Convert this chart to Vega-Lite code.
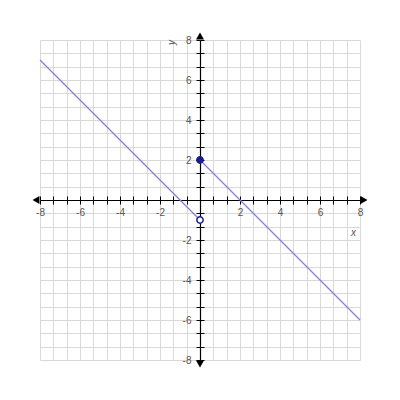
{
  "$schema": "https://vega.github.io/schema/vega-lite/v6.json",
  "width": 320,
  "height": 320,
  "autosize": {"type": "none"},
  "padding": {"left": 40, "top": 40, "right": 40, "bottom": 40},
  "config": {
    "view": {"stroke": null},
    "axis": {"labelFont": "Liberation Sans", "titleFont": "Liberation Sans"}
  },
  "resolve": {"axis": {"x": "independent", "y": "independent"}},
  "layer": [
    {
      "data": {
        "values": [
          {"piece": "a", "x": -8, "y": 7},
          {"piece": "a", "x": 0, "y": -1},
          {"piece": "b", "x": 0, "y": 2},
          {"piece": "b", "x": 8, "y": -6}
        ]
      },
      "mark": {"type": "line", "color": "#8080e0", "strokeWidth": 1.2},
      "encoding": {
        "detail": {"field": "piece"},
        "x": {
          "field": "x", "type": "quantitative",
          "scale": {"domain": [-8, 8], "nice": false, "zero": false},
          "axis": {
            "orient": "bottom", "title": null, "labels": false, "ticks": false, "domain": false,
            "grid": true, "gridColor": "#d9d9d9", "gridWidth": 1,
            "values": [-8, -7.3333, -6.6667, -6, -5.3333, -4.6667, -4, -3.3333, -2.6667, -2, -1.3333, -0.6667, 0, 0.6667, 1.3333, 2, 2.6667, 3.3333, 4, 4.6667, 5.3333, 6, 6.6667, 7.3333, 8]
          }
        },
        "y": {
          "field": "y", "type": "quantitative",
          "scale": {"domain": [-8, 8], "nice": false, "zero": false},
          "axis": {
            "orient": "left", "title": null, "labels": false, "ticks": false, "domain": false,
            "grid": true, "gridColor": "#d9d9d9", "gridWidth": 1,
            "values": [-8, -7.3333, -6.6667, -6, -5.3333, -4.6667, -4, -3.3333, -2.6667, -2, -1.3333, -0.6667, 0, 0.6667, 1.3333, 2, 2.6667, 3.3333, 4, 4.6667, 5.3333, 6, 6.6667, 7.3333, 8]
          }
        }
      }
    },
    {
      "data": {
        "values": [
          {"dir": "left", "x": -8.2, "y": 0},
          {"dir": "right", "x": 8.2, "y": 0},
          {"dir": "up", "x": 0, "y": 8.2},
          {"dir": "down", "x": 0, "y": -8.2}
        ]
      },
      "mark": {"type": "point", "filled": true, "color": "black", "size": 64, "opacity": 1},
      "encoding": {
        "shape": {
          "field": "dir", "type": "nominal", "legend": null,
          "scale": {"domain": ["left", "right", "up", "down"], "range": ["triangle-left", "triangle-right", "triangle-up", "triangle-down"]}
        },
        "x": {
          "field": "x", "type": "quantitative",
          "axis": {
            "orient": "bottom", "offset": -160, "grid": false,
            "domainColor": "black", "domainWidth": 1.2,
            "tickColor": "black", "tickSize": 4, "tickWidth": 1,
            "labelColor": "#555555", "labelFontSize": 10, "labelPadding": 3, "labelFlush": false, "labelOverlap": false,
            "labelExpr": "abs(datum.value) > 0.01 && abs(datum.value - round(datum.value)) < 0.01 && round(datum.value) % 2 == 0 ? '' + round(datum.value) : ''",
            "title": "x", "titleFontStyle": "italic", "titleFontWeight": "normal", "titleFontSize": 10, "titleColor": "#555555",
            "titleX": 313, "titleY": 32, "titleAlign": "center", "titleBaseline": "middle",
            "values": [-8, -7.3333, -6.6667, -6, -5.3333, -4.6667, -4, -3.3333, -2.6667, -2, -1.3333, -0.6667, 0, 0.6667, 1.3333, 2, 2.6667, 3.3333, 4, 4.6667, 5.3333, 6, 6.6667, 7.3333, 8]
          }
        },
        "y": {
          "field": "y", "type": "quantitative",
          "axis": {
            "orient": "left", "offset": -160, "grid": false,
            "domainColor": "black", "domainWidth": 1.2,
            "tickColor": "black", "tickSize": 4, "tickWidth": 1,
            "labelColor": "#555555", "labelFontSize": 10, "labelPadding": 5, "labelFlush": false, "labelOverlap": false,
            "labelExpr": "abs(datum.value) > 0.01 && abs(datum.value - round(datum.value)) < 0.01 && round(datum.value) % 2 == 0 ? '' + round(datum.value) : ''",
            "title": "y", "titleFontStyle": "italic", "titleFontWeight": "normal", "titleFontSize": 10, "titleColor": "#555555",
            "titleX": -29, "titleY": 2, "titleAngle": -90, "titleAlign": "center", "titleBaseline": "middle",
            "values": [-8, -7.3333, -6.6667, -6, -5.3333, -4.6667, -4, -3.3333, -2.6667, -2, -1.3333, -0.6667, 0, 0.6667, 1.3333, 2, 2.6667, 3.3333, 4, 4.6667, 5.3333, 6, 6.6667, 7.3333, 8]
          }
        }
      }
    },
    {
      "data": {
        "values": [
          {"kind": "closed", "x": 0, "y": 2},
          {"kind": "open", "x": 0, "y": -1}
        ]
      },
      "mark": {"type": "point", "filled": false, "stroke": "#1c1c8c", "strokeWidth": 1.5, "size": 40, "opacity": 1},
      "encoding": {
        "fill": {
          "field": "kind", "type": "nominal", "legend": null,
          "scale": {"domain": ["closed", "open"], "range": ["#1c1c8c", "#ffffff"]}
        },
        "x": {
          "field": "x", "type": "quantitative",
          "axis": {
            "orient": "top", "offset": -160, "grid": false, "domain": false, "labels": false, "title": null,
            "tickColor": "black", "tickSize": 4, "tickWidth": 1,
            "values": [-8, -7.3333, -6.6667, -6, -5.3333, -4.6667, -4, -3.3333, -2.6667, -2, -1.3333, -0.6667, 0, 0.6667, 1.3333, 2, 2.6667, 3.3333, 4, 4.6667, 5.3333, 6, 6.6667, 7.3333, 8]
          }
        },
        "y": {
          "field": "y", "type": "quantitative",
          "axis": {
            "orient": "right", "offset": -160, "grid": false, "domain": false, "labels": false, "title": null,
            "tickColor": "black", "tickSize": 4, "tickWidth": 1,
            "values": [-8, -7.3333, -6.6667, -6, -5.3333, -4.6667, -4, -3.3333, -2.6667, -2, -1.3333, -0.6667, 0, 0.6667, 1.3333, 2, 2.6667, 3.3333, 4, 4.6667, 5.3333, 6, 6.6667, 7.3333, 8]
          }
        }
      }
    }
  ]
}
